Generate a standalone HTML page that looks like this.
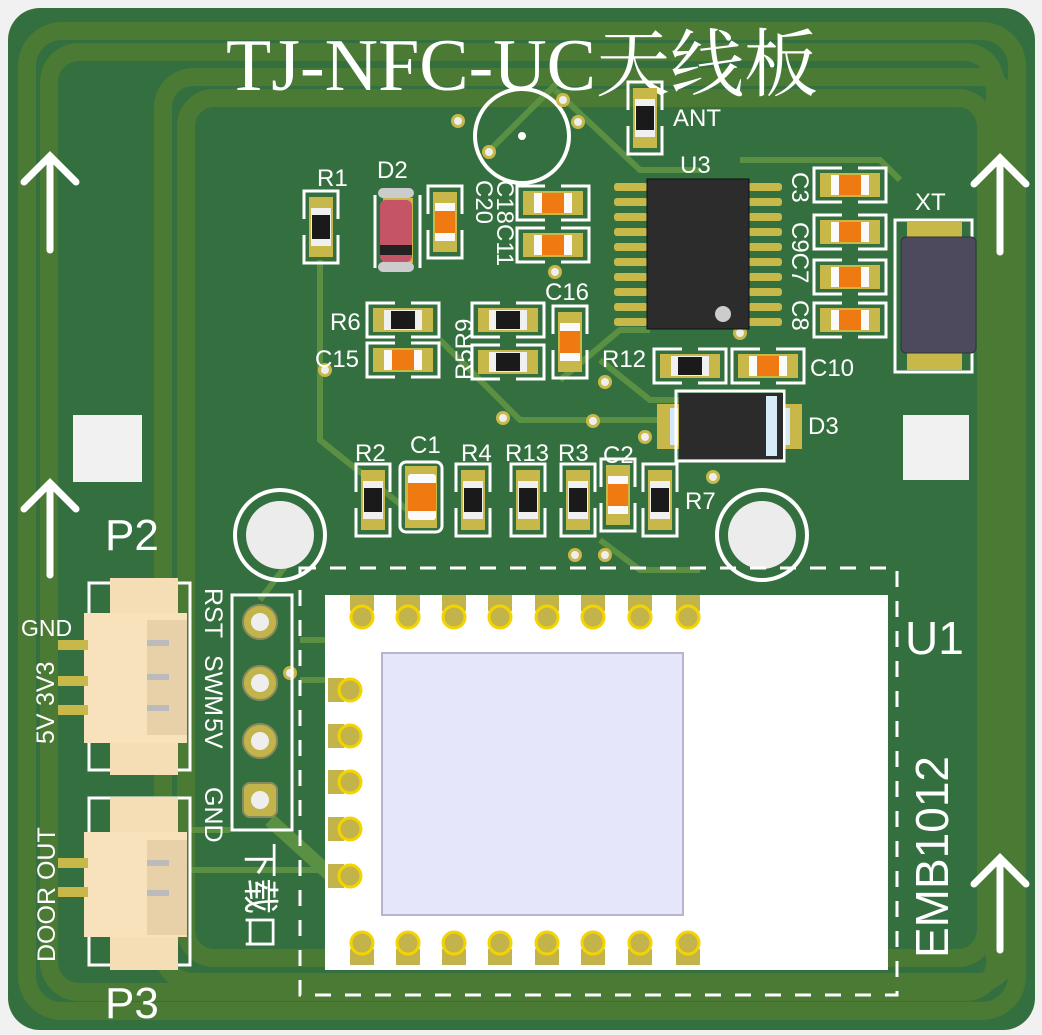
<!DOCTYPE html>
<html><head><meta charset="utf-8"><style>
html,body{margin:0;padding:0;background:#f1f1f1;}
svg{display:block}
text{font-family:"Liberation Sans","Noto Sans CJK SC",sans-serif;fill:#fff}
</style></head><body>
<svg width="1042" height="1035" viewBox="0 0 1042 1035" xmlns="http://www.w3.org/2000/svg">
<defs>
<g id="rv"><rect x="-12" y="-30" width="24" height="60" fill="#c8b84a"/><rect x="-10" y="-19" width="20" height="38" fill="#f0f0f0"/><rect x="-9" y="-12" width="18" height="24" fill="#1a1a1a"/>
<path d="M-17 -8 V-36 H17 V-8 M-17 8 V36 H17 V8" fill="none" stroke="#fff" stroke-width="3"/></g>
<g id="cv"><rect x="-12" y="-30" width="24" height="60" fill="#c8b84a"/><rect x="-10" y="-19" width="20" height="38" fill="#fafafa"/><rect x="-10" y="-11" width="20" height="22" fill="#ef7a12"/>
<path d="M-17 -8 V-36 H17 V-8 M-17 8 V36 H17 V8" fill="none" stroke="#fff" stroke-width="3"/></g>
<g id="rh"><use href="#rv" transform="rotate(90)"/></g>
<g id="ch"><use href="#cv" transform="rotate(90)"/></g>
<g id="pt"><rect x="-12" y="-22" width="24" height="16" fill="#c2b44a"/><circle cx="0" cy="0" r="11" fill="#c2b44a" stroke="#f3d400" stroke-width="3"/></g>
<g id="via"><circle r="7" fill="#c8b84a"/><circle r="4" fill="#eee"/></g>
</defs>
<rect width="1042" height="1035" fill="#f1f1f1"/>
<rect x="8" y="8" width="1027" height="1022" rx="32" fill="#34703f"/>
<g fill="none" stroke="#4b7a35" stroke-width="18">
<rect x="27" y="31" width="990" height="980" rx="35"/>
<rect x="49" y="52" width="946" height="940" rx="30"/>
<rect x="163" y="77" width="846" height="905" rx="30"/>
<rect x="186" y="98" width="800" height="860" rx="28"/>
</g>
<g fill="none" stroke="#5f9444" stroke-width="6" opacity="0.9">
<path d="M320 260 V 440 L 420 520"/><path d="M440 340 L 520 420 H 660"/><path d="M555 90 L 640 170 H 700"/>
<path d="M600 360 L 650 400 H 780"/><path d="M490 150 L 560 80"/><path d="M560 380 L 620 330 H 650"/>
<path d="M300 640 H 330 M300 680 H 330 M 290 560 L 260 600"/><path d="M190 870 H 330 M190 830 H 230"/>
<path d="M740 160 H 880 L 900 180"/><path d="M600 540 L 640 570 H 700"/>
<path d="M270 820 L 380 920" stroke-width="14"/>
</g>
<text x="226" y="90" font-size="74" style="font-family:'Liberation Serif','Noto Serif CJK SC',serif;font-weight:normal">TJ-NFC-UC天线板</text>
<g stroke="#fff" stroke-width="7" stroke-linecap="round" fill="none">
<path d="M50 250 V156 M24 182 L50 156 L76 182"/>
<path d="M50 575 V483 M24 509 L50 483 L76 509"/>
<path d="M1000 252 V158 M974 184 L1000 158 L1026 184"/>
<path d="M1000 950 V858 M974 884 L1000 858 L1026 884"/>
</g>
<rect x="73" y="415" width="69" height="67" fill="#f1f1f1"/>
<rect x="903" y="415" width="66" height="65" fill="#f1f1f1"/>
<circle cx="280" cy="535" r="45" fill="none" stroke="#fff" stroke-width="4"/><circle cx="280" cy="535" r="34" fill="#ececec"/>
<circle cx="762" cy="535" r="45" fill="none" stroke="#fff" stroke-width="4"/><circle cx="762" cy="535" r="34" fill="#ececec"/>
<circle cx="522" cy="136" r="47" fill="none" stroke="#fff" stroke-width="4"/><circle cx="522" cy="136" r="4" fill="#fff"/>
<use href="#via" x="458" y="121"/><use href="#via" x="563" y="100"/><use href="#via" x="578" y="122"/><use href="#via" x="489" y="152"/>
<use href="#via" x="325" y="370"/><use href="#via" x="605" y="382"/><use href="#via" x="503" y="418"/><use href="#via" x="593" y="421"/><use href="#via" x="645" y="437"/><use href="#via" x="713" y="477"/><use href="#via" x="290" y="673"/><use href="#via" x="605" y="555"/><use href="#via" x="575" y="555"/><use href="#via" x="740" y="333"/><use href="#via" x="555" y="272"/>
<use href="#rv" x="321" y="227"/>
<path d="M375 195 V268 M420 195 V268" stroke="#fff" stroke-width="3"/>
<rect x="383" y="198" width="30" height="65" fill="#c8b84a"/>
<rect x="380" y="200" width="32" height="62" rx="6" fill="#c45466"/><rect x="380" y="245" width="32" height="10" fill="#222"/>
<rect x="378" y="188" width="36" height="10" rx="5" fill="#ccc"/><rect x="378" y="262" width="36" height="10" rx="5" fill="#ccc"/>
<use href="#cv" x="445" y="222"/>
<use href="#ch" x="553" y="203"/><use href="#ch" x="553" y="245"/>
<use href="#rh" x="403" y="320"/><use href="#ch" x="403" y="360"/>
<use href="#rh" x="508" y="320"/><use href="#rh" x="508" y="362"/>
<use href="#cv" x="570" y="342"/>
<use href="#rh" x="690" y="366"/><use href="#ch" x="768" y="366"/>
<use href="#rv" x="645" y="118"/>
<use href="#ch" x="850" y="185"/><use href="#ch" x="850" y="232"/><use href="#ch" x="850" y="277"/><use href="#ch" x="850" y="320"/>
<g fill="#c8b84a">
<rect x="614" y="183" width="34" height="8" rx="3"/><rect x="614" y="198" width="34" height="8" rx="3"/><rect x="614" y="213" width="34" height="8" rx="3"/><rect x="614" y="228" width="34" height="8" rx="3"/><rect x="614" y="243" width="34" height="8" rx="3"/><rect x="614" y="258" width="34" height="8" rx="3"/><rect x="614" y="273" width="34" height="8" rx="3"/><rect x="614" y="288" width="34" height="8" rx="3"/><rect x="614" y="303" width="34" height="8" rx="3"/><rect x="614" y="318" width="34" height="8" rx="3"/>
<rect x="748" y="183" width="34" height="8" rx="3"/><rect x="748" y="198" width="34" height="8" rx="3"/><rect x="748" y="213" width="34" height="8" rx="3"/><rect x="748" y="228" width="34" height="8" rx="3"/><rect x="748" y="243" width="34" height="8" rx="3"/><rect x="748" y="258" width="34" height="8" rx="3"/><rect x="748" y="273" width="34" height="8" rx="3"/><rect x="748" y="288" width="34" height="8" rx="3"/><rect x="748" y="303" width="34" height="8" rx="3"/><rect x="748" y="318" width="34" height="8" rx="3"/>
</g>
<rect x="647" y="179" width="102" height="150" fill="#2c2c2c" stroke="#111"/><circle cx="723" cy="314" r="8" fill="#ccc"/>
<path d="M895 240 V220 H972 V240 M895 355 V372 H972 V355 M895 220 V372 M972 220 V372" fill="none" stroke="#fff" stroke-width="3"/>
<rect x="907" y="222" width="55" height="18" fill="#c8b84a"/><rect x="907" y="353" width="55" height="17" fill="#c8b84a"/>
<rect x="901" y="237" width="75" height="116" rx="5" fill="#4d4a5e" stroke="#333"/>
<rect x="657" y="404" width="145" height="45" fill="#c8b84a"/>
<rect x="670" y="408" width="8" height="37" fill="#d6e8f8"/><rect x="782" y="408" width="8" height="37" fill="#d6e8f8"/>
<rect x="676" y="391" width="108" height="70" fill="none" stroke="#fff" stroke-width="3"/>
<rect x="679" y="393" width="104" height="66" fill="#2b2b2b"/><rect x="766" y="396" width="11" height="60" fill="#d6eaf8"/>
<use href="#rv" x="373" y="500"/><use href="#rv" x="473" y="500"/><use href="#rv" x="528" y="500"/><use href="#rv" x="578" y="500"/><use href="#rv" x="660" y="500"/>
<use href="#cv" x="618" y="495"/>
<rect x="400" y="462" width="42" height="70" rx="6" fill="none" stroke="#fff" stroke-width="3"/>
<rect x="405" y="466" width="32" height="62" fill="#c8b84a"/><rect x="408" y="474" width="28" height="46" rx="3" fill="#fafafa"/><rect x="408" y="483" width="28" height="28" fill="#ef7a12"/>
<rect x="300" y="568" width="597" height="427" fill="none" stroke="#fff" stroke-width="3" stroke-dasharray="16 14"/>
<rect x="325" y="595" width="563" height="375" fill="#fff"/>
<rect x="382" y="653" width="301" height="262" fill="#e6e6fa" stroke="#b5b5d0" stroke-width="2"/>
<g><use href="#pt" x="362" y="617"/><use href="#pt" x="408" y="617"/><use href="#pt" x="454" y="617"/><use href="#pt" x="500" y="617"/><use href="#pt" x="547" y="617"/><use href="#pt" x="593" y="617"/><use href="#pt" x="640" y="617"/><use href="#pt" x="688" y="617"/></g>
<g transform="translate(0,1560) scale(1,-1)"><use href="#pt" x="362" y="617"/><use href="#pt" x="408" y="617"/><use href="#pt" x="454" y="617"/><use href="#pt" x="500" y="617"/><use href="#pt" x="547" y="617"/><use href="#pt" x="593" y="617"/><use href="#pt" x="640" y="617"/><use href="#pt" x="688" y="617"/></g>
<g><use href="#pt" transform="translate(350,690) rotate(-90)"/><use href="#pt" transform="translate(350,736) rotate(-90)"/><use href="#pt" transform="translate(350,782) rotate(-90)"/><use href="#pt" transform="translate(350,829) rotate(-90)"/><use href="#pt" transform="translate(350,876) rotate(-90)"/></g>
<text x="905" y="654" font-size="46">U1</text>
<text transform="translate(948,958) rotate(-90)" font-size="46">EMB1012</text>
<rect x="232" y="595" width="60" height="235" fill="none" stroke="#fff" stroke-width="3"/>
<g fill="#c2b44a" stroke="#8a8a60" stroke-width="2"><circle cx="260" cy="622" r="17"/><circle cx="260" cy="683" r="17"/><circle cx="260" cy="741" r="17"/><rect x="243" y="783" width="34" height="34" rx="7"/></g>
<g fill="#eee"><circle cx="260" cy="622" r="9"/><circle cx="260" cy="683" r="9"/><circle cx="260" cy="741" r="9"/><circle cx="260" cy="800" r="9"/></g>
<g font-size="25">
<text transform="translate(205,588) rotate(90)">RST</text>
<text transform="translate(205,655) rotate(90)">SWM</text>
<text transform="translate(205,718) rotate(90)">5V</text>
<text transform="translate(205,787) rotate(90)">GND</text>
</g>
<text transform="translate(248,842) rotate(90)" font-size="36" style="font-family:'Noto Sans CJK SC',sans-serif">下载口</text>
<g>
<path d="M89 600 V583 H190 V600 M89 750 V770 H190 V750 M89 583 V770 M190 583 V770" fill="none" stroke="#fff" stroke-width="3"/>
<rect x="110" y="578" width="68" height="42" fill="#f5deb5"/><rect x="110" y="740" width="68" height="35" fill="#f5deb5"/>
<rect x="84" y="613" width="103" height="130" fill="#f8e2bb"/><rect x="147" y="620" width="40" height="115" fill="#e8d0a8"/>
<rect x="58" y="640" width="30" height="10" fill="#c8b84a"/><rect x="58" y="676" width="30" height="10" fill="#c8b84a"/><rect x="58" y="705" width="30" height="10" fill="#c8b84a"/>
<rect x="147" y="640" width="22" height="6" fill="#bbb"/><rect x="147" y="674" width="22" height="6" fill="#bbb"/><rect x="147" y="705" width="22" height="6" fill="#bbb"/>
<path d="M89 815 V798 H190 V815 M89 948 V965 H190 V948 M89 798 V965 M190 798 V965" fill="none" stroke="#fff" stroke-width="3"/>
<rect x="110" y="797" width="68" height="40" fill="#f5deb5"/><rect x="110" y="935" width="68" height="35" fill="#f5deb5"/>
<rect x="84" y="832" width="103" height="105" fill="#f8e2bb"/><rect x="147" y="840" width="40" height="95" fill="#e8d0a8"/>
<rect x="58" y="858" width="30" height="10" fill="#c8b84a"/><rect x="58" y="887" width="30" height="10" fill="#c8b84a"/>
<rect x="147" y="860" width="22" height="6" fill="#bbb"/><rect x="147" y="890" width="22" height="6" fill="#bbb"/>
</g>
<text x="105" y="550" font-size="44">P2</text>
<text x="105" y="1018" font-size="44">P3</text>
<text x="21" y="636" font-size="23">GND</text>
<text transform="translate(54,706) rotate(-90)" font-size="25">3V3</text>
<text transform="translate(54,744) rotate(-90)" font-size="25">5V</text>
<text transform="translate(55,962) rotate(-90)" font-size="25">DOOR OUT</text>
<g font-size="24">
<text x="317" y="186">R1</text><text x="377" y="178">D2</text>
<text transform="translate(476,180) rotate(90)">C20</text>
<text transform="translate(497,180) rotate(90)">C18C11</text>
<text x="545" y="300">C16</text>
<text x="330" y="330">R6</text><text x="315" y="367">C15</text>
<text transform="translate(472,380) rotate(-90)">R5R9</text>
<text x="602" y="367">R12</text><text x="810" y="376">C10</text>
<text x="673" y="126">ANT</text><text x="680" y="173">U3</text>
<text transform="translate(792,172) rotate(90)">C3</text>
<text transform="translate(792,222) rotate(90)">C9C7</text>
<text transform="translate(792,300) rotate(90)">C8</text>
<text x="915" y="210">XT</text><text x="808" y="434">D3</text>
<text x="355" y="461">R2</text><text x="410" y="453">C1</text><text x="461" y="461">R4</text><text x="505" y="461">R13</text><text x="558" y="461">R3</text><text x="603" y="463">C2</text><text x="685" y="509">R7</text>
</g>
</svg>
</body></html>
